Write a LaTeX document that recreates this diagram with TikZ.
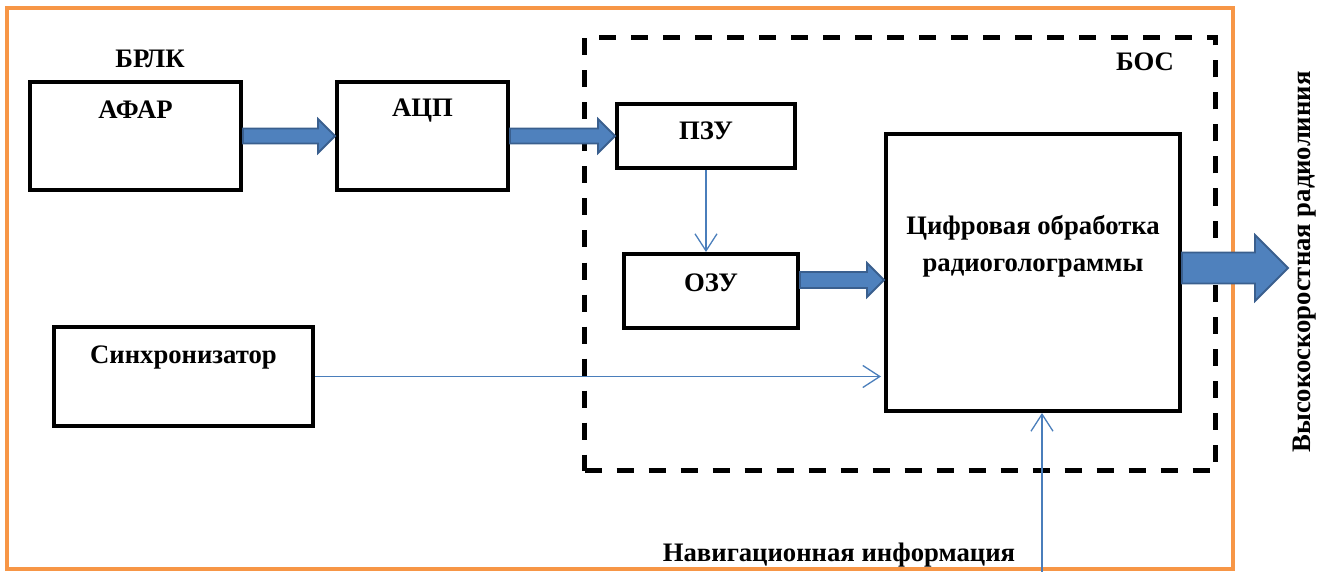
\documentclass[tikz,border=0pt]{standalone}
\usepackage{fontspec}
\setmainfont{Liberation Serif}
\usetikzlibrary{calc,arrows.meta}
\definecolor{frameorange}{HTML}{F79646}
\definecolor{fatfill}{HTML}{4F81BD}
\definecolor{fatedge}{HTML}{3A5F8E}
\definecolor{thinblue}{HTML}{4A7EBB}
% from, to, shaft half height, head half height, head length
\newcommand\fatarrow[5]{\path[fatarr] let \p1=(#1), \p2=(#2) in
  (\x1,\y1+#3) -- (\x2-#5,\y1+#3) -- (\x2-#5,\y1+#4) -- (\x2,\y1)
  -- (\x2-#5,\y1-#4) -- (\x2-#5,\y1-#3) -- (\x1,\y1-#3) -- cycle;}
\begin{document}
\begin{tikzpicture}[x=1pt,y=-1pt,
  box/.style={draw, line width=4pt, inner sep=0pt},
  lbl/.style={font=\fontsize{26.7}{37}\selectfont\bfseries, align=center},
  inlbl/.style={lbl, anchor=center, yshift=-#1},
  thinarr/.style={draw=thinblue, line width=1.3pt,
    -{Straight Barb[length=17pt,width=22pt,line width=1.3pt]}},
  fatarr/.style={fill=fatfill, draw=fatedge, line width=1.8pt, line join=miter}]
\useasboundingbox (0,0) rectangle (1322,572);
\draw[frameorange, line width=3.5pt] (7,8) rectangle (1233,569);

\node[draw, line width=5pt, dash pattern=on 17pt off 15pt, inner sep=0pt,
  minimum width=631pt, minimum height=433pt] (bos) at (900,254) {};
\node[lbl] (boslbl) at (1145,62) {БОС};
\node[lbl] (brlk) at (150,59) {БРЛК};

\node[box, minimum width=211pt, minimum height=108pt,
  label={[inlbl=30pt]north:АФАР}] (afar) at (135.5,136) {};
\node[box, minimum width=171pt, minimum height=108pt,
  label={[inlbl=31pt]north:АЦП}] (acp) at (422.5,136) {};
\node[box, minimum width=178pt, minimum height=64pt,
  label={[inlbl=29pt]north:ПЗУ}] (pzu) at (706,136) {};
\node[box, minimum width=174pt, minimum height=74pt,
  label={[inlbl=31pt]north:ОЗУ}] (ozu) at (711,291) {};
\node[box, minimum width=294pt, minimum height=277pt,
  label={[inlbl=114pt]north:Цифровая обработка\\радиоголограммы}] (big) at (1033,272.5) {};
\node[box, minimum width=259pt, minimum height=99pt,
  label={[inlbl=33pt]north:Синхронизатор}] (sync) at (183.5,376.5) {};

\node[lbl, rotate=90] (radio) at (1305,262) {Высокоскоростная радиолиния};
\node[lbl] (navlbl) at (839,555) {Навигационная информация};

\coordinate (outtip) at (1288,268);
\coordinate (nav) at (1042,572);

\fatarrow{afar.east}{acp.west}{7.5pt}{17pt}{17pt}
\fatarrow{acp.east}{pzu.west}{7.5pt}{17pt}{17pt}
\fatarrow{[yshift=11pt]ozu.east}{big.west}{8pt}{17pt}{17pt}
\fatarrow{[yshift=4.5pt]big.east}{outtip}{15.5pt}{33pt}{33pt}

\draw[thinarr] (pzu.south) -- (pzu.south |- ozu.north);
\draw[thinarr] (sync.east) -- ([xshift=-3pt]big.west |- sync.east);
\draw[thinarr] (nav) -- (nav |- big.south);
\end{tikzpicture}
\end{document}
